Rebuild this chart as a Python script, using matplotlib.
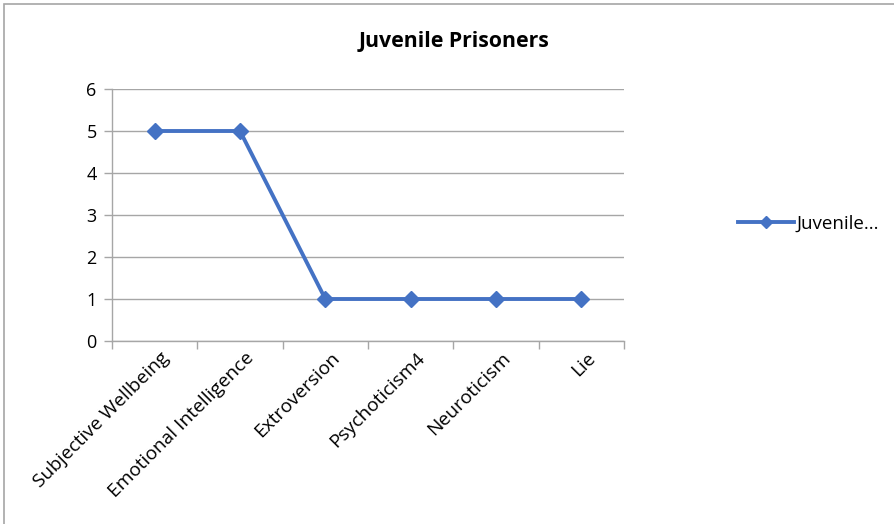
import matplotlib.pyplot as plt
from matplotlib.patches import Rectangle
import matplotlib.transforms as mtransforms

categories = ['Subjective Wellbeing', 'Emotional Intelligence', 'Extroversion',
              'Psychoticism4', 'Neuroticism', 'Lie']
values = [5, 5, 1, 1, 1, 1]
y_ticks = [0, 1, 2, 3, 4, 5, 6]
series_name = 'Juvenile...'

plt.rcParams['font.family'] = ['Open Sans', 'DejaVu Sans']

W, H = 895, 524
fig = plt.figure(figsize=(W / 100, H / 100), dpi=100)

# outer chart border (bottom and right run off the image)
fig.patches.append(Rectangle((4 / W, -0.2), 1.2, 1.2 - 4 / H, transform=fig.transFigure,
                             fill=False, edgecolor='#a6a6a6', linewidth=1.2))

ax = fig.add_axes([112 / W, (H - 341) / H, (624 - 112) / W, (341 - 89) / H])

color = '#4472c4'
x = list(range(len(categories)))
ax.plot(x, values, color=color, linewidth=2.8, marker='D', markersize=8.5,
        markeredgecolor=color, label=series_name, zorder=3)

ax.set_xlim(-0.5, len(categories) - 0.5)
ax.set_ylim(0, 6)
ax.set_yticks(y_ticks)
ax.yaxis.grid(True, color='#a6a6a6', linewidth=1)
ax.set_axisbelow(True)

for s in ['top', 'right']:
    ax.spines[s].set_visible(False)
for s in ['left', 'bottom']:
    ax.spines[s].set_color('#a6a6a6')
    ax.spines[s].set_linewidth(1)

# category boundary ticks
ax.set_xticks([i - 0.5 for i in range(len(categories) + 1)])
ax.set_xticklabels([])
ax.tick_params(axis='x', length=6, color='#a6a6a6', width=1)
ax.tick_params(axis='y', length=6, color='#a6a6a6', width=1, labelsize=13, pad=5)

offset = mtransforms.ScaledTranslation(0.05, -0.08, fig.dpi_scale_trans)
for i, c in enumerate(categories):
    ax.text(i, 0, c, rotation=45, rotation_mode='anchor', ha='right', va='top',
            fontsize=13.8, transform=ax.get_xaxis_transform() + offset)

fig.text(454 / W, 1 - 42 / H, 'Juvenile Prisoners', ha='center', va='center',
         fontsize=15.3, fontweight='bold')

fig.legend(loc='center left', bbox_to_anchor=(721 / W, 1 - 224 / H), frameon=False,
           fontsize=13.5, handlelength=3.0, handletextpad=0.15, markerscale=0.7)

fig.savefig('out.png', dpi=100)
